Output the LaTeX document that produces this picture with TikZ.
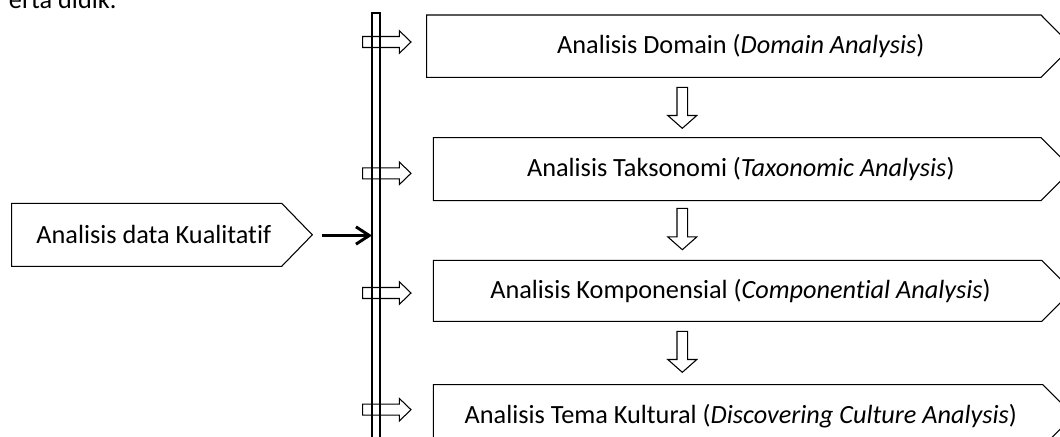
\documentclass[tikz,border=0pt]{standalone}
\usepackage{fontspec}
\setmainfont{Carlito}[Ligatures=NoCommon]
\usetikzlibrary{arrows.meta,calc}
\begin{document}
\begin{tikzpicture}[x=0.75pt,y=-0.75pt,
  outline/.style={draw=black,line width=0.8pt,line join=miter},
  lbl/.style={font=\fontsize{19.7}{23}\selectfont,inner sep=0pt},
  thickarrow/.style={draw=black,line width=2.5pt,-{Straight Barb[length=10pt,width=13pt,line width=2.2pt]}},
]
\useasboundingbox (0,0) rectangle (1060,436);

% fragment of the surrounding text
\node[lbl,anchor=base east] (frag) at (116.7,8.3) {erta didik.};

% vertical bar
\draw[outline] (372,460) -- (372,13) -- (380,13) -- (380,460);
\coordinate (barL) at (372,235.5);

% source pentagon
\draw[outline] (11.7,203.3) -- (281.7,203.3) -- (312.3,234.8) -- (281.7,266.3) -- (11.7,266.3) -- cycle;
\node[lbl] (src) at (153.8,234.8) {Analisis data Kualitatif};
\coordinate (srcout) at (321.7,235.5);
\draw[thickarrow] (srcout) -- (barL);

% step boxes
\draw[outline] (426.7,15) -- (1041,15) -- (1072,46.2) -- (1041,77.3) -- (426.7,77.3) -- cycle;
\node[lbl] (b1) at (740.8,46.2) {Analisis Domain (\textit{Domain Analysis})};
\draw[outline] (433.3,137.7) -- (1041,137.7) -- (1072.5,169.2) -- (1041,200.7) -- (433.3,200.7) -- cycle;
\node[lbl] (b2) at (740.8,169.2) {Analisis Taksonomi (\textit{Taxonomic Analysis})};
\draw[outline] (433.3,260.3) -- (1041.7,260.3) -- (1072.2,290.8) -- (1041.7,321.3) -- (433.3,321.3) -- cycle;
\node[lbl] (b3) at (740.5,290.8) {Analisis Komponensial (\textit{Componential Analysis})};
\draw[outline] (433.3,384.7) -- (1042.7,384.7) -- (1073.7,415.7) -- (1042.7,446.7) -- (433.3,446.7) -- cycle;
\node[lbl] (b4) at (740.8,415.7) {Analisis Tema Kultural (\textit{Discovering Culture Analysis})};

% right block arrows from bar
\foreach \yc/\nm in {42/r1,173.3/r2,293/r3,409.7/r4}{
  \coordinate (\nm) at (362.7,\yc);
  \draw[outline] (\nm) ++(0,-5.5) -- ++(36.6,0) -- ++(0,-5.8) -- ++(11.7,11.3) -- ++(-11.7,11.3) -- ++(0,-5.8) -- ++(-36.6,0) -- cycle;
}

% down block arrows between boxes
\foreach \yt/\yh/\nm in {87.3/128.3/d1,208.3/249.7/d2,331.3/372.3/d3}{
  \coordinate (\nm) at (682.3,\yt);
  \draw[outline] (682.3-5.3,\yt) -- (682.3+5.3,\yt) -- (682.3+5.3,\yh-12.8) -- (682.3+14.5,\yh-12.8) -- (682.3,\yh) -- (682.3-14.5,\yh-12.8) -- (682.3-5.3,\yh-12.8) -- cycle;
}
\end{tikzpicture}
\end{document}
